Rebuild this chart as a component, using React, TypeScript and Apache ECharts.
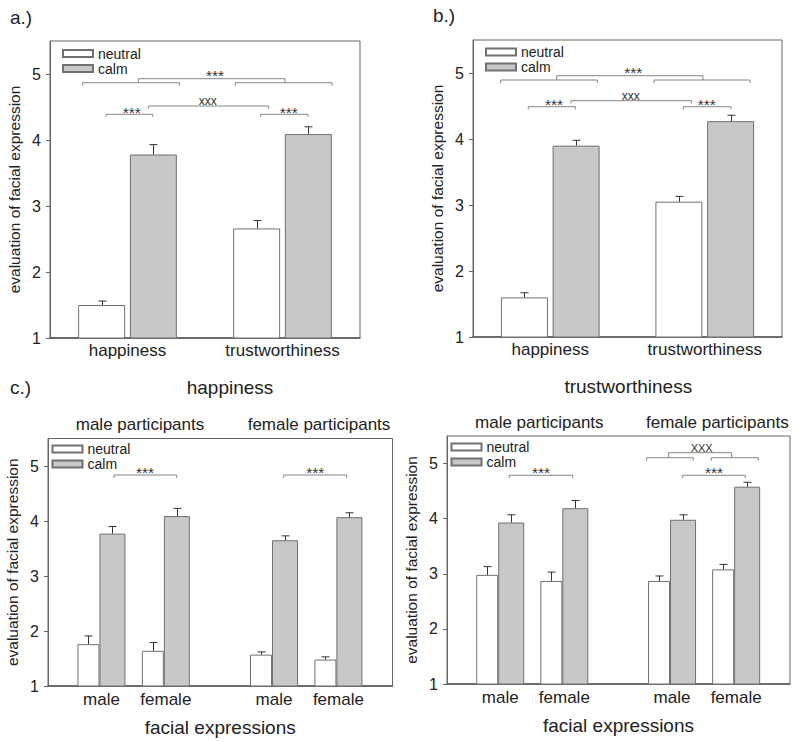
import React, { useEffect, useRef } from "react";
import * as echarts from "echarts";

const FONT = "Arial, 'Liberation Sans', Helvetica, sans-serif";

// ---------- data ----------
const groupCategories = ["happiness", "trustworthiness"];
const legendNames = ["neutral", "calm"];

const aNeutral = [1.5, 2.66];
const aNeutralSE = [0.06, 0.12];
const aCalm = [3.78, 4.09];
const aCalmSE = [0.15, 0.11];

const bNeutral = [1.6, 3.05];
const bNeutralSE = [0.07, 0.08];
const bCalm = [3.9, 4.27];
const bCalmSE = [0.08, 0.09];

const faceLabels = ["male", "female", "male", "female"];
const facePositions = [1, 2, 3.68, 4.68];

const cHapNeutral = [1.76, 1.64, 1.57, 1.48];
const cHapNeutralSE = [0.15, 0.15, 0.05, 0.05];
const cHapCalm = [3.77, 4.09, 3.65, 4.07];
const cHapCalmSE = [0.13, 0.14, 0.08, 0.08];

const cTruNeutral = [2.98, 2.87, 2.87, 3.08];
const cTruNeutralSE = [0.15, 0.16, 0.09, 0.09];
const cTruCalm = [3.93, 4.19, 3.98, 4.58];
const cTruCalmSE = [0.14, 0.14, 0.09, 0.08];

const yName = "evaluation of facial expression";
const xNameC = "facial expressions";

// ---------- styles ----------
const TEXT = "#222";
const AXIS = "#666";
const BRACKET = "#858585";
const neutralStyle = { color: "#ffffff", borderColor: "#707070", borderWidth: 1 };
const calmStyle = { color: "#c8c8c8", borderColor: "#707070", borderWidth: 1 };

const grids = [
  { left: 50, top: 41, width: 310, height: 297 },
  { left: 473, top: 40, width: 309, height: 297 },
  { left: 48, top: 438.5, width: 344.5, height: 247.5 },
  { left: 447, top: 436, width: 343, height: 248 },
];

const legendPos = [
  { left: 62, top: 46.5 },
  { left: 485, top: 45 },
  { left: 51.5, top: 442 },
  { left: 450.5, top: 440 },
];

function yAxis(i: number) {
  return {
    type: "value",
    gridIndex: i,
    min: 1,
    max: 5.5,
    interval: 1,
    splitLine: { show: false },
    axisLine: { show: true, lineStyle: { color: AXIS, width: 1 } },
    axisTick: { show: true, length: 4, lineStyle: { color: AXIS } },
    axisLabel: {
      fontSize: 16,
      color: TEXT,
      fontFamily: FONT,
      margin: 9,
      showMaxLabel: false,
      formatter: (v: number) => (Number.isInteger(v) ? String(v) : ""),
    },
    name: yName,
    nameLocation: "middle",
    nameGap: 28,
    nameTextStyle: { fontSize: 15.5, color: TEXT, fontFamily: FONT },
  };
}

function catXAxis(i: number) {
  return {
    type: "category",
    gridIndex: i,
    data: groupCategories,
    axisTick: { show: false },
    axisLine: { lineStyle: { color: "#555", width: 1.5 } },
    axisLabel: { fontSize: 17, color: TEXT, fontFamily: FONT, margin: 4 },
  };
}

function valXAxis(i: number) {
  return {
    type: "value",
    gridIndex: i,
    min: 0.17,
    max: 5.52,
    splitLine: { show: false },
    axisTick: { show: false },
    axisLine: { onZero: false, lineStyle: { color: "#555", width: 1.5 } },
    axisLabel: {
      customValues: facePositions,
      fontSize: 17,
      color: TEXT,
      fontFamily: FONT,
      margin: 5,
      formatter: (v: number) => {
        const k = facePositions.findIndex((p) => Math.abs(p - v) < 1e-6);
        return k >= 0 ? faceLabels[k] : "";
      },
    },
    name: xNameC,
    nameLocation: "middle",
    nameGap: 32,
    nameTextStyle: { fontSize: 19, color: TEXT, fontFamily: FONT },
  };
}

function errSeries(i: number, data: number[][], offset: number) {
  return {
    type: "custom",
    xAxisIndex: i,
    yAxisIndex: i,
    data,
    silent: true,
    z: 5,
    renderItem: (_p: any, api: any) => {
      const x = api.value(0);
      const y = api.value(1);
      const e = api.value(2);
      const p0 = api.coord([x, y]);
      const p1 = api.coord([x, y + e]);
      const cx = Math.round(p0[0] + offset) + 0.5;
      return {
        type: "group",
        children: [
          {
            type: "line",
            shape: { x1: cx, y1: p0[1], x2: cx, y2: p1[1] },
            style: { stroke: "#333", lineWidth: 1 },
          },
          {
            type: "line",
            shape: { x1: cx - 4, y1: p1[1], x2: cx + 4, y2: p1[1] },
            style: { stroke: "#333", lineWidth: 1 },
          },
        ],
      };
    },
  };
}

function catPanel(i: number, neu: number[], neuSE: number[], calm: number[], calmSE: number[]) {
  return [
    {
      type: "bar",
      name: "neutral",
      xAxisIndex: i,
      yAxisIndex: i,
      data: neu,
      barWidth: 47,
      barGap: "10%",
      itemStyle: neutralStyle,
    },
    {
      type: "bar",
      name: "calm",
      xAxisIndex: i,
      yAxisIndex: i,
      data: calm,
      barWidth: 47,
      barGap: "10%",
      itemStyle: calmStyle,
    },
    errSeries(i, neu.map((v, k) => [k, v, neuSE[k]]), -25.85),
    errSeries(i, calm.map((v, k) => [k, v, calmSE[k]]), 25.85),
  ];
}

function facePanel(i: number, neu: number[], neuSE: number[], calm: number[], calmSE: number[]) {
  return [
    {
      type: "bar",
      name: "neutral",
      xAxisIndex: i,
      yAxisIndex: i,
      data: facePositions.map((x, k) => [x, neu[k]]),
      barWidth: 22,
      barGap: 0,
      itemStyle: neutralStyle,
    },
    {
      type: "bar",
      name: "calm",
      xAxisIndex: i,
      yAxisIndex: i,
      data: facePositions.map((x, k) => [x, calm[k]]),
      barWidth: 26,
      barGap: 0,
      itemStyle: calmStyle,
    },
    errSeries(i, facePositions.map((x, k) => [x, neu[k], neuSE[k]]), -13),
    errSeries(i, facePositions.map((x, k) => [x, calm[k], calmSE[k]]), 11),
  ];
}

function bracket(x1: number, x2: number, y: number, t = 3) {
  return {
    type: "polyline",
    silent: true,
    shape: { points: [[x1, y + t], [x1, y], [x2, y], [x2, y + t]] },
    style: { stroke: BRACKET, lineWidth: 1, fill: null },
  };
}

function txt(s: string, x: number, y: number, size: number, align = "center", color = TEXT) {
  return {
    type: "text",
    silent: true,
    x,
    y,
    style: { text: s, fontSize: size, fontFamily: FONT, fill: color, align, verticalAlign: "middle" },
  };
}

const STAR = "#333";
const SS = 15.5;

export default function App() {
  const ref = useRef<HTMLDivElement>(null);
  useEffect(() => {
    if (!ref.current) return;
    const chart = echarts.init(ref.current, undefined, { renderer: "svg" });
    const option: any = {
      animation: false,
      backgroundColor: "#ffffff",
      grid: grids.map((g) => ({ ...g, show: true, borderColor: AXIS, borderWidth: 1, backgroundColor: "transparent" })),
      xAxis: [catXAxis(0), catXAxis(1), valXAxis(2), valXAxis(3)],
      yAxis: [yAxis(0), yAxis(1), yAxis(2), yAxis(3)],
      legend: legendPos.map((p) => ({
        ...p,
        data: legendNames,
        orient: "vertical",
        icon: "rect",
        itemWidth: 30,
        itemHeight: 7,
        itemGap: 1,
        padding: 0,
        selectedMode: false,
        textStyle: { fontSize: 14, color: TEXT, fontFamily: FONT },
      })),
      series: [
        ...catPanel(0, aNeutral, aNeutralSE, aCalm, aCalmSE),
        ...catPanel(1, bNeutral, bNeutralSE, bCalm, bCalmSE),
        ...facePanel(2, cHapNeutral, cHapNeutralSE, cHapCalm, cHapCalmSE),
        ...facePanel(3, cTruNeutral, cTruNeutralSE, cTruCalm, cTruCalmSE),
      ],
      graphic: [
        // panel labels and titles
        txt("a.)", 10, 17, 19, "left"),
        txt("b.)", 433, 15, 19, "left"),
        txt("c.)", 10, 387, 19, "left"),
        txt("happiness", 230, 387, 19),
        txt("trustworthiness", 628.3, 386, 19),
        txt("male participants", 140, 424.3, 17),
        txt("female participants", 319, 424.3, 17),
        txt("male participants", 539.3, 422.7, 17),
        txt("female participants", 717.3, 422.7, 17),
        // panel a brackets
        bracket(82.7, 179.3, 82.7, 3),
        bracket(235.3, 332, 82.7, 3),
        bracket(138.3, 285, 78.7, 4),
        txt("***", 215, 75, SS, "center", STAR),
        bracket(106, 152.7, 114.3, 2.5),
        bracket(148.3, 268.7, 106, 2.7),
        bracket(260.7, 308, 114.3, 2.5),
        txt("***", 131.7, 112.5, SS, "center", STAR),
        txt("xxx", 207.7, 100.5, 12, "center", STAR),
        txt("***", 288.7, 112.5, SS, "center", STAR),
        // panel b brackets
        bracket(500.7, 597.3, 80, 3),
        bracket(654, 750, 80, 3),
        bracket(556.7, 703, 75.7, 4.3),
        txt("***", 633.3, 72.8, SS, "center", STAR),
        bracket(528.3, 575.3, 106.7, 2.7),
        bracket(571, 691.3, 100.7, 2.7),
        bracket(683.3, 731, 106.7, 2.7),
        txt("***", 554, 104.5, SS, "center", STAR),
        txt("xxx", 630.7, 96, 12, "center", STAR),
        txt("***", 706.7, 104.5, SS, "center", STAR),
        // panel c happiness
        bracket(114, 176.7, 475, 3),
        bracket(283.7, 346.7, 475, 3),
        txt("***", 145, 472.5, SS, "center", STAR),
        txt("***", 315.3, 472.5, SS, "center", STAR),
        // panel c trustworthiness
        bracket(509.3, 572.7, 475.3, 3),
        bracket(682.7, 745.3, 475.3, 3),
        txt("***", 541, 472.5, SS, "center", STAR),
        txt("***", 714, 472.5, SS, "center", STAR),
        bracket(646.7, 693.3, 457.7, 3),
        bracket(711.3, 758.3, 457.7, 3),
        bracket(668.7, 731.7, 452.7, 5),
        txt("XXX", 701.7, 448, 11, "center", STAR),
      ],
    };
    chart.setOption(option);
    return () => chart.dispose();
  }, []);
  return (
    <div
      ref={ref}
      style={{ position: "absolute", left: 0, top: 0, width: 797, height: 742, background: "#fff" }}
    />
  );
}
